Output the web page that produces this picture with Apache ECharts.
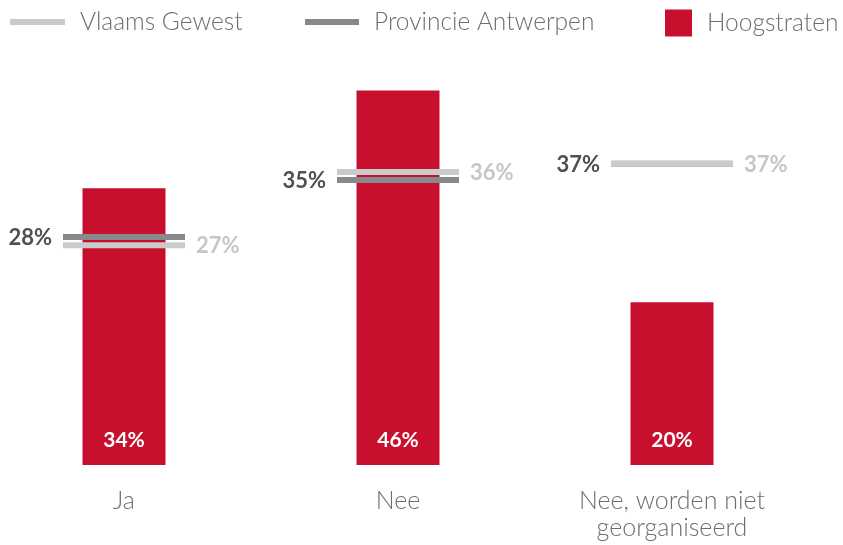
<!DOCTYPE html>
<html>
<head>
<meta charset="utf-8">
<script src="https://cdn.jsdelivr.net/npm/echarts@6/dist/echarts.min.js"></script>
<style>
  html, body { margin: 0; padding: 0; background: #fff; overflow: hidden; }
  #wrap { position: relative; width: 843px; height: 545px; overflow: hidden; }
  /* chart canvas is shifted left so the first category band can start off-page */
  #chart { position: absolute; left: -13px; top: 0; width: 856px; height: 545px; }
</style>
</head>
<body>
<div id="wrap"><div id="chart"></div></div>
<script>
// Categories and values (percentages)
const categories = ['Ja', 'Nee', 'Nee, worden niet\ngeorganiseerd'];
const hoogstraten = [34, 46, 20];
const provincieAntwerpen = [28, 35, 37];
const vlaamsGewest = [27, 36, 37];

const RED = '#C8102E';
const LIGHT = '#cbcbcb';
const DARK = '#87898c';
const FONT = 'Lato';
const SHIFT = 13;

// Horizontal reference marker with a value label on one side
function markerRenderer(color, labelColor, side) {
  return function (params, api) {
    const idx = api.value(0);
    const val = api.value(1);
    const p = api.coord([idx, val]);
    const half = 61;
    const h = 6;
    const tx = side === 'left' ? p[0] - half - 11 : p[0] + half + 11;
    return {
      type: 'group',
      children: [
        {
          type: 'rect',
          shape: { x: p[0] - half, y: p[1] - h / 2, width: half * 2, height: h },
          style: { fill: color }
        },
        {
          type: 'text',
          x: tx,
          y: p[1] + 1,
          style: {
            text: val + '%',
            fill: labelColor,
            font: 'bold 22px ' + FONT,
            textAlign: side === 'left' ? 'right' : 'left',
            textVerticalAlign: 'middle'
          }
        }
      ]
    };
  };
}

const chart = echarts.init(document.getElementById('chart'), null, { renderer: 'canvas' });

const legendText = { color: '#6e6e6e', fontSize: 24.5, fontFamily: FONT, fontWeight: 300, lineHeight: 28, padding: [0, 0, 0, 10] };

chart.setOption({
  animation: false,
  legend: [
    { data: ['Vlaams Gewest'], left: 10 + SHIFT, top: 8, padding: 0, icon: 'rect', itemWidth: 55, itemHeight: 6, textStyle: legendText },
    { data: ['Provincie Antwerpen'], left: 305 + SHIFT, top: 8, padding: 0, icon: 'rect', itemWidth: 54, itemHeight: 6, textStyle: legendText },
    { data: ['Hoogstraten'], left: 665 + SHIFT, top: 9, padding: 0, icon: 'rect', itemWidth: 27, itemHeight: 27, textStyle: legendText }
  ],
  grid: { left: 0, right: 34, top: 58, bottom: 80, containLabel: false },
  xAxis: {
    type: 'category',
    data: categories,
    axisLine: { show: false },
    axisTick: { show: false },
    axisLabel: {
      color: '#6e6e6e',
      fontSize: 25,
      fontFamily: FONT,
      fontWeight: 300,
      lineHeight: 27,
      margin: 22,
      interval: 0
    }
  },
  yAxis: {
    type: 'value',
    min: 0,
    max: 50,
    show: false,
    splitLine: { show: false }
  },
  series: [
    {
      name: 'Hoogstraten',
      type: 'bar',
      data: hoogstraten,
      barWidth: 83,
      itemStyle: { color: RED },
      label: {
        show: true,
        position: 'insideBottom',
        distance: 14,
        formatter: '{c}%',
        color: '#fff',
        fontSize: 21,
        fontWeight: 'bold',
        fontFamily: FONT
      },
      z: 1
    },
    {
      name: 'Provincie Antwerpen',
      type: 'custom',
      data: provincieAntwerpen.map((v, i) => [i, v]),
      itemStyle: { color: DARK },
      renderItem: markerRenderer(DARK, '#505053', 'left'),
      z: 2
    },
    {
      name: 'Vlaams Gewest',
      type: 'custom',
      data: vlaamsGewest.map((v, i) => [i, v]),
      itemStyle: { color: LIGHT },
      renderItem: markerRenderer(LIGHT, '#c6c6c6', 'right'),
      z: 3
    }
  ]
});
</script>
</body>
</html>
